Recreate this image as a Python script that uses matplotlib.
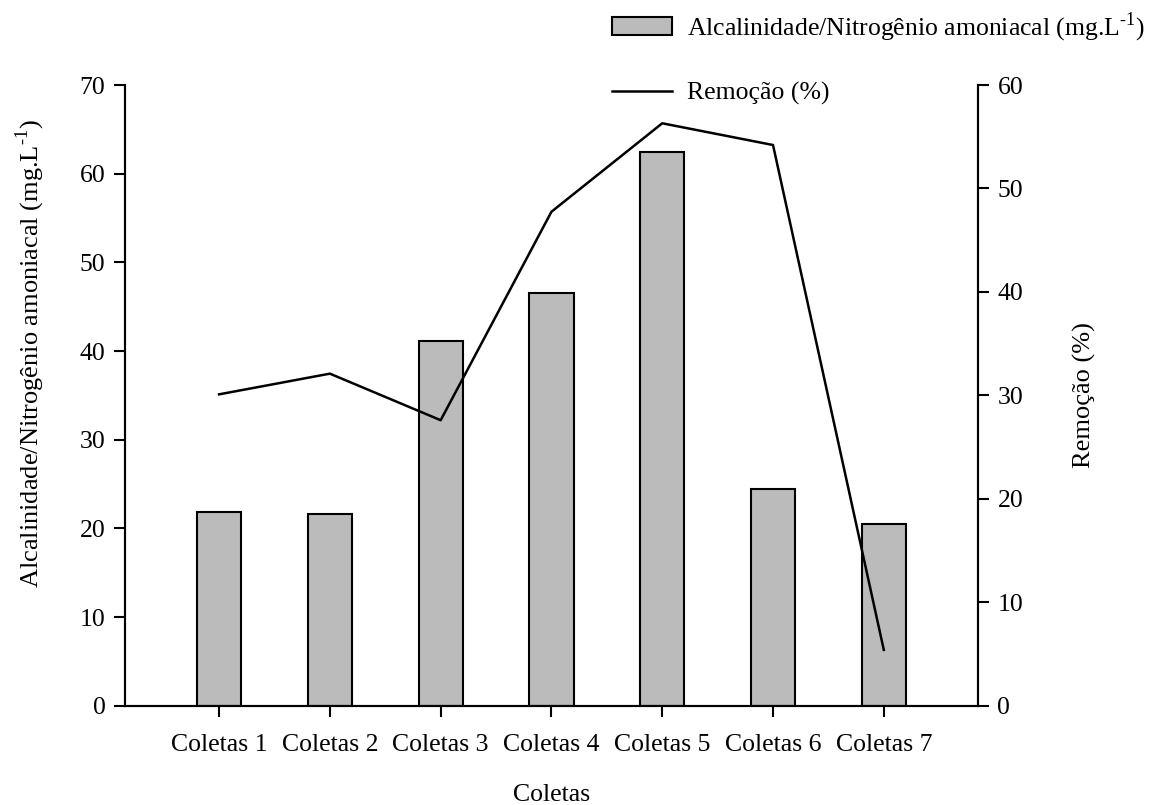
import numpy as np
import matplotlib.pyplot as plt
from matplotlib.patches import Patch
from matplotlib.lines import Line2D

plt.rcParams['font.family'] = ['Liberation Serif', 'DejaVu Serif']
plt.rcParams['mathtext.fontset'] = 'custom'
plt.rcParams['mathtext.rm'] = 'Liberation Serif'
plt.rcParams['font.size'] = 18.5

coletas = ["Coletas 1", "Coletas 2", "Coletas 3", "Coletas 4",
           "Coletas 5", "Coletas 6", "Coletas 7"]
alc_nitrog = [21.9, 21.65, 41.1, 46.6, 62.4, 24.4, 20.45]
remocao = [30.1, 32.1, 27.6, 47.75, 56.3, 54.2, 5.4]

x = np.arange(len(coletas))
unid = r"(mg.L$^{\text{-1}}$)"

fig = plt.figure(figsize=(11.59, 8.05), dpi=100)
ax = fig.add_axes([0.1078, 0.1233, 0.7360, 0.7711])
ax2 = ax.twinx()

ax.bar(x, alc_nitrog, width=0.4, color="#bbbbbb", edgecolor="black", linewidth=1.5, zorder=2)
ax2.plot(x, remocao, color="black", linewidth=1.8)

ax.set_xlim(-0.85, 6.85)
ax.set_ylim(0, 70)
ax2.set_ylim(0, 60)
ax.set_yticks(range(0, 71, 10))
ax2.set_yticks(range(0, 61, 10))
ax.set_xticks(x)
ax.set_xticklabels(coletas)

for a in (ax, ax2):
    a.spines["top"].set_visible(False)
    for s in a.spines.values():
        s.set_linewidth(1.5)
    a.tick_params(direction="out", length=8, width=1.5, labelsize=18.5, pad=6)
ax.tick_params(axis="x", length=8, pad=12)

ax.set_xlabel("Coletas", fontsize=18.5)
ax.xaxis.set_label_coords(0.5, -0.126)
ax.set_ylabel("Alcalinidade/Nitrogênio amoniacal " + unid, fontsize=19)
ax.yaxis.set_label_coords(-0.0914, 0.567)
ax2.set_ylabel("Remoção (%)", fontsize=19, rotation=90)
ax2.yaxis.set_label_coords(1.111, 0.5)

handles = [Patch(facecolor="#bbbbbb", edgecolor="black", linewidth=1.5),
           Line2D([], [], color="black", linewidth=1.8)]
labels = ["Alcalinidade/Nitrogênio amoniacal " + unid, "Remoção (%)"]
fig.legend(handles, labels, loc="upper left", bbox_to_anchor=(0.508, 1.016),
           frameon=False, fontsize=18.5, handlelength=2.33, handleheight=0.66,
           handletextpad=0.58, labelspacing=1.48)

fig.savefig("out.png", dpi=100)
